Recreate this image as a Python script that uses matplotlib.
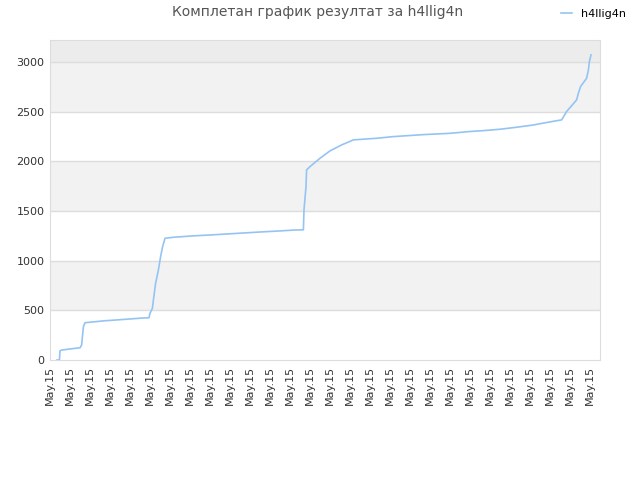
import matplotlib
matplotlib.use("Agg")
import matplotlib.pyplot as plt

title = "Комплетан график резултат за h4llig4n"
player = "h4llig4n"
tick_labels = ["May.15"] * 28

# time position (in tick units) and cumulative score
t = [0.35, 0.47, 0.5, 0.58, 1.08, 1.5, 1.58, 1.67, 1.75, 2.75, 3.33, 4.0,
     4.67, 4.95, 5.0, 5.12, 5.17, 5.28, 5.42, 5.53, 5.63, 5.75, 6.17, 7.08,
     8.0, 8.83, 9.67, 10.5, 11.42, 12.25, 12.67, 12.7, 12.8, 12.83, 13.0,
     13.5, 14.0, 14.58, 15.17, 16.33, 17.17, 17.92, 18.67, 20.0, 20.92,
     21.67, 22.5, 23.33, 24.17, 25.0, 25.58, 25.83, 26.33, 26.42, 26.53,
     26.83, 26.92, 26.97, 27.05]
score = [0, 0, 93, 100, 113, 123, 150, 335, 375, 395, 403, 413,
         423, 425, 470, 520, 604, 772, 906, 1040, 1140, 1225, 1235, 1248,
         1258, 1268, 1278, 1288, 1298, 1308, 1310, 1510, 1745, 1913, 1946,
         2030, 2104, 2164, 2215, 2231, 2248, 2258, 2268, 2281, 2298,
         2308, 2322, 2342, 2365, 2396, 2416, 2500, 2617, 2685, 2752,
         2835, 2919, 3003, 3070]

fig = plt.figure(figsize=(6.4, 4.8), dpi=100)
ax = fig.add_axes([50 / 640, 120 / 480, 550 / 640, 320 / 480])

ymax = 3220
# alternating bands
for lo in range(0, 3000, 500):
    if (lo // 500) % 2 == 1:
        ax.axhspan(lo, lo + 500, color="#f2f2f2", zorder=0, lw=0)
ax.axhspan(3000, ymax, color="#ececec", zorder=0, lw=0)
for y in range(500, 3001, 500):
    ax.axhline(y, color="#dddddd", lw=1, zorder=1)

ax.plot(t, score, color="#94c4f4", lw=1.2, zorder=3, label=player)

ax.set_xlim(0, 27.5)
ax.set_ylim(0, ymax)
ax.set_xticks(range(len(tick_labels)))
ax.set_xticklabels(tick_labels, rotation=90, fontsize=8, color="#333333")
ax.set_yticks(range(0, 3001, 500))
ax.set_yticklabels([str(v) for v in range(0, 3001, 500)], fontsize=8, color="#333333")
ax.tick_params(length=0, pad=4)
for s in ax.spines.values():
    s.set_color("#dddddd")

fig.text(318 / 640, 1 - 12 / 480, title, ha="center", va="center",
         fontsize=10, color="#555555")
fig.legend(loc="upper right", bbox_to_anchor=(636 / 640, 1 + 1 / 480),
           frameon=False, fontsize=8, handlelength=1.0, handletextpad=0.8)

fig.savefig("out.png", dpi=100)
